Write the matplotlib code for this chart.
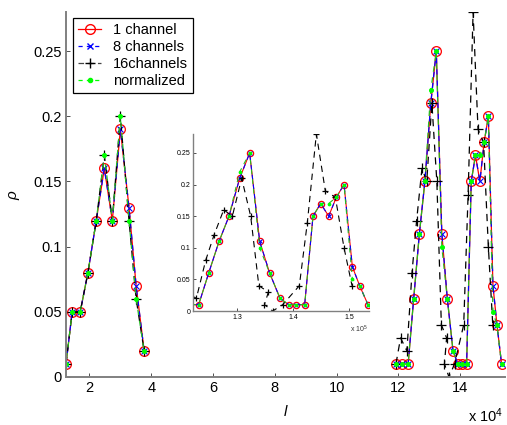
import numpy as np
import matplotlib
matplotlib.use("Agg")
import matplotlib.pyplot as plt
from matplotlib.lines import Line2D

plt.rcParams['font.family'] = ['Liberation Sans', 'DejaVu Sans']
plt.rcParams['mathtext.fontset'] = 'custom'
plt.rcParams['mathtext.rm'] = 'Liberation Sans'
plt.rcParams['mathtext.it'] = 'Liberation Sans:italic'
plt.rcParams['lines.scale_dashes'] = False

# ================= data (l values, raw units) =================
# left group: 1 channel and 8 channels coincide, 16 channels and normalized coincide
left_l = [12400, 14400, 17000, 19500, 22200, 24800, 27400, 30000, 32800, 35100, 37700]
left_ch1 = [0.01, 0.05, 0.05, 0.08, 0.12, 0.16, 0.12, 0.19, 0.13, 0.07, 0.02]
left_ch8 = [0.01, 0.05, 0.05, 0.08, 0.12, 0.16, 0.12, 0.19, 0.13, 0.07, 0.02]
left_ch16 = [0.01, 0.05, 0.05, 0.08, 0.12, 0.17, 0.12, 0.20, 0.12, 0.06, 0.02]
left_norm = [0.01, 0.05, 0.05, 0.08, 0.12, 0.17, 0.12, 0.20, 0.12, 0.06, 0.02]

# right group
right_l = [119200, 121200, 123150, 124940, 126790, 128570, 130480, 132260,
           134050, 135830, 137680, 139230, 140600, 142080, 143570, 144940,
           146370, 147740, 149110, 150600, 151900, 153390]
right_ch1 = [0.01, 0.01, 0.01, 0.06, 0.11, 0.15, 0.21, 0.25, 0.11, 0.06, 0.02,
             0.01, 0.01, 0.01, 0.15, 0.17, 0.15, 0.18, 0.20, 0.07, 0.04, 0.01]
right_ch8 = [0.01, 0.01, 0.01, 0.06, 0.11, 0.15, 0.21, 0.25, 0.11, 0.06, 0.02,
             0.01, 0.01, 0.01, 0.15, 0.17, 0.15, 0.18, 0.20, 0.07, 0.04, 0.01]
right_norm = [0.01, 0.01, 0.01, 0.06, 0.11, 0.15, 0.22, 0.25, 0.10, 0.06, 0.02,
              0.01, 0.01, 0.01, 0.15, 0.17, 0.17, 0.18, 0.20, 0.05, 0.04, 0.01]

right_l16 = [119200, 120700, 122740, 124400, 125890, 127620, 129170, 130830,
             132440, 133900, 135600, 134900, 136370, 138160, 141130, 142560,
             144170, 145770, 147560, 149110, 150540]
right_ch16 = [0.01, 0.03, 0.02, 0.08, 0.12, 0.16, 0.15, 0.21, 0.15, 0.04, 0.03,
              0.01, 0.00, 0.01, 0.04, 0.14, 0.28, 0.19, 0.18, 0.10, 0.04]

labels = ["1 channel", "8 channels", "16channels", "normalized"]
y_ticks = [0, 0.05, 0.1, 0.15, 0.2, 0.25]
y_tick_labels = ["0", "0.05", "0.1", "0.15", "0.2", "0.25"]


def draw_series(ax, scale, ms, lw, dash):
    """draw both groups of the 4 series on one axes, x divided by scale"""
    groups = [
        (left_l, left_ch1, left_ch8, left_l, left_ch16, left_norm),
        (right_l, right_ch1, right_ch8, right_l16, right_ch16, right_norm),
    ]
    for lx, c1, c8, lx16, c16, cn in groups:
        x = np.array(lx) / scale
        x16 = np.array(lx16) / scale
        ax.plot(x, c1, color='red', lw=lw, ls='-', marker='o', ms=ms,
                mfc='none', mec='red', mew=0.9)
        ax.plot(x, c8, color='blue', lw=lw, ls=(0, dash), marker='x',
                ms=ms * 0.55, mec='blue', mew=0.8)
        ax.plot(x16, c16, color='black', lw=lw, ls=(0, (dash[0] * 1.3, dash[1])),
                marker='+', ms=ms * 1.0, mec='black', mew=0.9)
        ax.plot(x, cn, color='#22bb22', lw=lw, ls=(dash[0], dash),
                marker='.', ms=ms * 0.75, mfc='#00ff00', mec='#00ff00')


def style_axes(ax, fs, tick_len, spine_lw):
    ax.spines['top'].set_visible(False)
    ax.spines['right'].set_visible(False)
    for side in ['left', 'bottom']:
        ax.spines[side].set_color('#808080')
        ax.spines[side].set_linewidth(spine_lw)
    ax.tick_params(direction='in', length=tick_len, width=0.6, labelsize=fs,
                   pad=3, colors='#333333', labelcolor='black')


# ================= figure =================
fig = plt.figure(figsize=(5.07, 4.25), dpi=100)

# main axes
ax = fig.add_axes([66 / 507, 48 / 425, 439 / 507, 365 / 425])
draw_series(ax, 1e4, ms=7, lw=0.9, dash=(4, 4))
ax.set_xlim(1.24, 15.45)
ax.set_ylim(0, 0.28)
ax.set_xticks([2, 4, 6, 8, 10, 12, 14])
ax.set_yticks(y_ticks)
ax.set_yticklabels(y_tick_labels)
style_axes(ax, 10.5, 3, 1.4)
ax.set_xlabel("$l$", fontsize=11, labelpad=6)
ax.set_ylabel(r"$\rho$", fontsize=11, labelpad=8)
fig.text(468 / 507, 1 - 416 / 425, r"x 10$^{4}$", fontsize=10.5, ha='left', va='center')

# legend with solid red handle
handles = [
    Line2D([], [], color='red', ls='-', lw=0.9, marker='o', ms=7, mfc='none', mec='red'),
    Line2D([], [], color='blue', ls=(0, (3, 3)), lw=0.9, marker='x', ms=4, mec='blue'),
    Line2D([], [], color='#444444', ls=(0, (4, 3)), lw=0.9, marker='+', ms=7, mec='black'),
    Line2D([], [], color='#00ff00', ls=(0, (3, 3)), lw=0.9, marker='.', ms=6,
           mfc='#00ff00', mec='#00ff00'),
]
leg = ax.legend(handles, labels, loc='upper left', bbox_to_anchor=(73 / 507, 1 - 18 / 425),
                bbox_transform=fig.transFigure, borderaxespad=0, fontsize=10.5,
                fancybox=False, edgecolor='black', framealpha=1, handlelength=1.6,
                handletextpad=0.8, labelspacing=0.2, borderpad=0.35)
leg.get_frame().set_linewidth(0.9)

# inset axes (zoom of the right group, x in 1e5)
ins = fig.add_axes([193 / 507, (425 - 311) / 425, 176 / 507, 177 / 425])
ins.set_facecolor('white')
draw_series(ins, 1e5, ms=4.5, lw=0.8, dash=(3.5, 3.5))
ins.set_xlim(1.2214, 1.5357)
ins.set_ylim(0, 0.28)
ins.set_xticks([1.3, 1.4, 1.5])
ins.set_xticklabels(["1.3", "1.4", "1.5"])
ins.set_yticks(y_ticks)
ins.set_yticklabels(y_tick_labels)
style_axes(ins, 5, 2, 1.0)
ins.tick_params(pad=2)
fig.text(350 / 507, 1 - 329 / 425, r"x 10$^{5}$", fontsize=5, ha='left', va='center',
         color='#333333')

plt.savefig("out.png", dpi=100)
plt.close()
